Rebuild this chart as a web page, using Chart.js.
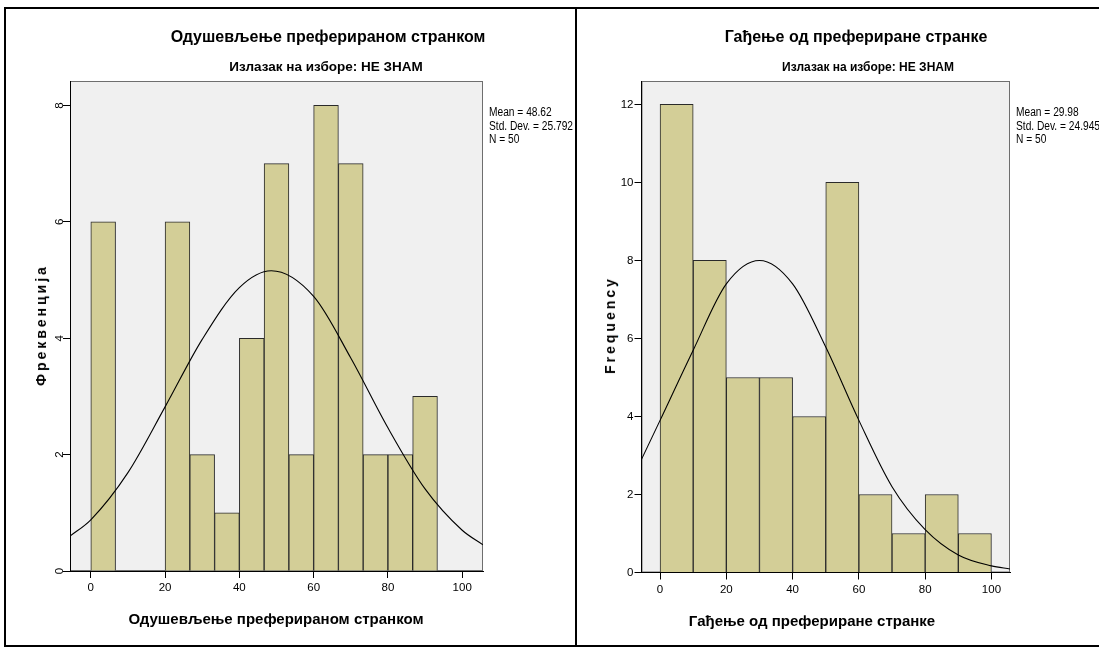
<!DOCTYPE html>
<html>
<head>
<meta charset="utf-8">
<script src="https://cdn.jsdelivr.net/npm/chart.js@4.4.1/dist/chart.umd.min.js"></script>
<style>
  body { margin: 0; width: 1099px; height: 649px; position: relative; overflow: hidden; background: #fff;
         font-family: "Liberation Sans", Arial, sans-serif; color: #000; }
  .rule { position: absolute; background: #000; }
  .panel { position: absolute; top: 0; height: 649px; overflow: hidden; }
  .lbl { position: absolute; white-space: nowrap; transform: translate(-50%, -50%); }
  .title { font-weight: bold; font-size: 16px; }
  .sub { font-weight: bold; font-size: 13.5px; }
  .axt { font-weight: bold; font-size: 15px; }
  .yt { font-weight: bold; font-size: 14px; letter-spacing: 3px; transform: translate(-50%, -50%) rotate(-90deg); }
  .stats { position: absolute; font-size: 12px; line-height: 13.5px; white-space: nowrap;
           transform: scaleX(0.85); transform-origin: 0 0; }
  canvas { position: absolute; }
</style>
</head>
<body>
<div class="rule" style="left:4px;top:7px;width:1095px;height:2px"></div>
<div class="rule" style="left:4px;top:7px;width:2px;height:640px"></div>
<div class="rule" style="left:4px;top:645px;width:1095px;height:2px"></div>
<div class="rule" style="left:575px;top:7px;width:2px;height:640px"></div>

<div class="panel" style="left:6px;width:569px">
  <canvas id="chart" width="568" height="634" style="left:0;top:10px;width:568px;height:634px"></canvas>
  <div class="lbl title" style="left:322px;top:37px">Одушевљење преферираном странком</div>
  <div class="lbl sub" style="left:320px;top:66px">Излазак на изборе: НЕ ЗНАМ</div>
  <div class="lbl axt" style="left:270px;top:618px">Одушевљење преферираном странком</div>
  <div class="lbl yt" style="left:35px;top:325px">Фреквенција</div>
  <div class="stats" style="left:483px;top:106px">Mean = 48.62<br>Std. Dev. = 25.792<br>N = 50</div>
</div>

<div class="panel" style="left:577px;width:522px">
  <canvas id="chart2" width="522" height="634" style="left:0;top:10px;width:522px;height:634px"></canvas>
  <div class="lbl title" style="left:279px;top:37px">Гађење од префериране странке</div>
  <div class="lbl sub" style="left:291px;top:67px;font-size:12px">Излазак на изборе: НЕ ЗНАМ</div>
  <div class="lbl axt" style="left:235px;top:620px">Гађење од префериране странке</div>
  <div class="lbl yt" style="left:33px;top:325px">Frequency</div>
  <div class="stats" style="left:439px;top:106px">Mean = 29.98<br>Std. Dev. = 24.945<br>N = 50</div>
</div>

<script>
// shared axis ticks
var xTicks = [0, 20, 40, 60, 80, 100];

// Одушевљење преферираном странком (15 bins of 6.67)
var enthEdges = [0, 6.67, 13.33, 20, 26.67, 33.33, 40, 46.67, 53.33, 60, 66.67, 73.33, 80, 86.67, 93.33, 100];
var enthCounts = [6, 0, 0, 6, 2, 1, 4, 7, 2, 8, 7, 2, 2, 3, 0];
var enthYTicks = [0, 2, 4, 6, 8];
var enthCurveX = [-5.6, 0, 10, 20, 30, 40, 48.6, 60, 70, 80, 90, 100, 105.6];
var enthCurveY = [0.6, 0.88, 1.69, 2.82, 3.98, 4.87, 5.16, 4.72, 3.66, 2.46, 1.41, 0.7, 0.45];

// Гађење од префериране странке (10 bins of 10)
var disgEdges = [0, 10, 20, 30, 40, 50, 60, 70, 80, 90, 100];
var disgCounts = [12, 8, 5, 5, 4, 10, 2, 1, 2, 1];
var disgYTicks = [0, 2, 4, 6, 8, 10, 12];
var disgCurveX = [-5.6, 0, 10, 20, 30, 40, 50, 60, 70, 80, 90, 100, 105.6];
var disgCurveY = [2.9, 3.9, 5.7, 7.4, 8.0, 7.4, 5.78, 3.9, 2.2, 1.1, 0.45, 0.17, 0.09];

var tickFont = { family: '"Liberation Sans", Arial, sans-serif', size: 11.5 };

var plotFrame = {
    id: 'plotFrame',
    beforeDraw: function(chart) {
        var ctx = chart.ctx, a = chart.chartArea;
        ctx.save();
        ctx.fillStyle = '#f0f0f0';
        ctx.fillRect(a.left, a.top, a.right - a.left, a.bottom - a.top);
        ctx.strokeStyle = '#6e6e6e';
        ctx.lineWidth = 1;
        ctx.strokeRect(a.left + 0.5, a.top + 0.5, a.right - a.left - 1, a.bottom - a.top - 1);
        ctx.restore();
    }
};

function histogram(id, edges, counts, curveX, curveY, yTicks, yMax, pad, yRot) {
    var bars = [];
    for (var i = 0; i < counts.length; i++) {
        bars.push({ x: (edges[i] + edges[i + 1]) / 2, y: counts[i] });
    }
    var curve = curveX.map(function(x, i) { return { x: x, y: curveY[i] }; });

    return new Chart(document.getElementById(id).getContext('2d'), {
        type: 'bar',
        data: {
            datasets: [{
                type: 'bar',
                data: bars,
                backgroundColor: '#d3ce97',
                borderColor: '#2a2a2a',
                borderWidth: 1,
                barPercentage: 1,
                categoryPercentage: 1,
                order: 2
            }, {
                type: 'line',
                data: curve,
                borderColor: '#000',
                borderWidth: 1.1,
                pointRadius: 0,
                fill: false,
                cubicInterpolationMode: 'monotone',
                order: 1
            }]
        },
        options: {
            responsive: false,
            animation: false,
            devicePixelRatio: 1,
            layout: { padding: pad },
            plugins: { legend: { display: false }, tooltip: { enabled: false } },
            scales: {
                x: {
                    type: 'linear',
                    offset: false,
                    min: -5.6,
                    max: 105.6,
                    afterBuildTicks: function(s) { s.ticks = xTicks.map(function(v) { return { value: v }; }); },
                    afterFit: function(s) { s.height = 40; s.paddingLeft = 0; s.paddingRight = 0; },
                    grid: { offset: false, drawOnChartArea: false, tickLength: 7, color: '#000' },
                    border: { color: '#000', width: 1 },
                    ticks: { padding: 3, font: tickFont, color: '#000', maxRotation: 0, autoSkip: false }
                },
                y: {
                    min: 0,
                    max: yMax,
                    afterBuildTicks: function(s) { s.ticks = yTicks.map(function(v) { return { value: v }; }); },
                    afterFit: function(s) { s.width = 30; s.paddingTop = 0; s.paddingBottom = 0; },
                    grid: { drawOnChartArea: false, tickLength: 7, color: '#000' },
                    border: { color: '#000', width: 1 },
                    ticks: {
                        padding: yRot ? 0 : 1,
                        minRotation: yRot,
                        maxRotation: yRot,
                        crossAlign: yRot ? 'center' : 'near',
                        font: tickFont,
                        color: '#000',
                        autoSkip: false
                    }
                }
            }
        },
        plugins: [plotFrame]
    });
}

window.onload = function() {
    histogram('chart', enthEdges, enthCounts, enthCurveX, enthCurveY, enthYTicks, 8.42,
        { left: 34, top: 71, right: 91, bottom: 33 }, 90);
    histogram('chart2', disgEdges, disgCounts, disgCurveX, disgCurveY, disgYTicks, 12.6,
        { left: 34.5, top: 71, right: 89, bottom: 31.5 }, 0);
};
</script>
</body>
</html>
